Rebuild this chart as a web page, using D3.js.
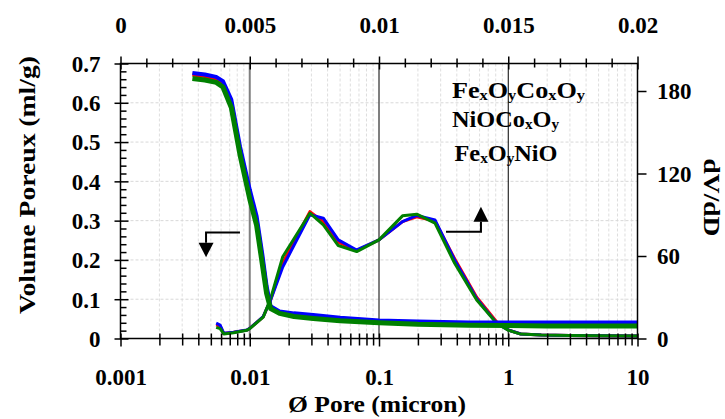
<!DOCTYPE html>
<html><head><meta charset="utf-8">
<script src="https://cdn.jsdelivr.net/npm/d3@7/dist/d3.min.js"></script>
<style>
body{margin:0;background:#fff}
text{font-family:"Liberation Serif","Times New Roman",serif;font-weight:bold;fill:#000}
</style>
</head><body>
<svg id="c" width="725" height="419"></svg>
<script>
// ---------- data ----------
const volX     = [0.0036,0.0045,0.0055,0.0062,0.0072,0.0084,0.0100,0.0113,0.0125,0.0135,0.0145,0.0170,0.0220,0.0310,0.050,0.100,0.200,0.500,1.0,2.0,5.0,10.0];
const volRed   = [0.672,0.668,0.661,0.650,0.600,0.480,0.370,0.300,0.205,0.125,0.079,0.067,0.061,0.057,0.050,0.044,0.040,0.038,0.037,0.037,0.037,0.037];
const volBlue  = [0.676,0.672,0.666,0.655,0.608,0.489,0.379,0.311,0.215,0.133,0.082,0.069,0.064,0.060,0.053,0.046,0.043,0.041,0.041,0.041,0.041,0.041];
const volGreen = [0.662,0.658,0.652,0.640,0.588,0.468,0.355,0.288,0.190,0.115,0.076,0.064,0.056,0.051,0.045,0.040,0.036,0.034,0.033,0.032,0.032,0.032];

const dvX     = [0.0055,0.0059,0.0063,0.0075,0.0095,0.0100,0.0127,0.0145,0.0180,0.0292,0.0371,0.0484,0.0672,0.100,0.152,0.196,0.271,0.385,0.570,0.815,1.00,1.25,1.80,3.0,5.0,10.0];
const dvRed   = [10.0,9.0,3.6,4.5,6.1,7.3,15.7,28,55,92.3,85,70,64,71.7,85,88.5,85.5,58,30,12,6.2,3.3,2.5,2.2,2.0,1.8];
const dvBlue  = [11.1,9.8,3.8,4.6,6.2,7.4,15.9,28,52,90,87.5,71.7,64.4,71.7,85,89.5,86.3,57,29,11,6.2,3.3,2.5,2.2,2.0,1.8];
const dvGreen = [8.1,7.2,3.3,4.2,6.0,7.2,15.5,29,59.5,91.1,82.6,67.6,63.2,71.7,89.2,90.4,83.9,54.7,28,11,6.0,3.2,2.5,2.2,2.0,1.8];

const leftTicks   = [0,0.1,0.2,0.3,0.4,0.5,0.6,0.7];
const rightTicks  = [0,60,120,180];
const bottomTicks = [0.001,0.01,0.1,1,10];
const topTicks    = [0,0.005,0.01,0.015,0.02];
const bottomLabels = ["0.001","0.01","0.1","1","10"];
const topLabels    = ["0","0.005","0.01","0.015","0.02"];
const leftLabels   = ["0","0.1","0.2","0.3","0.4","0.5","0.6","0.7"];
const rightLabels  = ["0","60","120","180"];

const legendRows = [
  [["Fe",0],["x",1],["O",0],["y",1],["Co",0],["x",1],["O",0],["y",1]],
  [["NiOCo",0],["x",1],["O",0],["y",1]],
  [["Fe",0],["x",1],["O",0],["y",1],["NiO",0]]
];
const seriesColors = ["#ff0000","#0000ff","#008000"];

// ---------- scales ----------
const L=120.5, R=637.5, T=63.5, B=338.5;
const x = d3.scaleLog().domain([0.001,10]).range([L,R]);
const xTop = d3.scaleLinear().domain([0,0.02]).range([L,R]);
const yL = d3.scaleLinear().domain([0,0.7]).range([B,T]);
const yR = d3.scaleLinear().domain([0,200]).range([B,T]);

const svg = d3.select("#c");

// ---------- gridlines ----------
const minorLog = [];
[0.001,0.01,0.1,1].forEach(d=>{for(let k=2;k<=9;k++) minorLog.push(d*k);});
const grid = svg.append("g");
grid.selectAll("line.vm").data(minorLog).join("line")
  .attr("x1",d=>x(d)).attr("x2",d=>x(d)).attr("y1",T).attr("y2",B)
  .attr("stroke","#dedede").attr("stroke-width",1).attr("stroke-dasharray","3,2");
grid.selectAll("line.h").data(leftTicks.slice(1,-1)).join("line")
  .attr("x1",L).attr("x2",R).attr("y1",d=>yL(d)).attr("y2",d=>yL(d))
  .attr("stroke","#d8d8d8").attr("stroke-width",1).attr("stroke-dasharray","3,2");
grid.selectAll("line.vM").data(bottomTicks.slice(1,-1)).join("line")
  .attr("x1",d=>x(d)).attr("x2",d=>x(d)).attr("y1",T).attr("y2",B)
  .attr("stroke",(d,i)=>i===0?"#808080":"#000").attr("stroke-width",(d,i)=>i===0?2:1);

// ---------- curves ----------
const lineDV = xs => d3.line().x((d,i)=>x(xs[i])).y(d=>yR(d));
const lineV  = xs => d3.line().x((d,i)=>x(xs[i])).y(d=>yL(d));
[dvRed,dvBlue,dvGreen].forEach((s,i)=>{
  svg.append("path").datum(s).attr("d",lineDV(dvX)).attr("fill","none")
    .attr("stroke",seriesColors[i]).attr("stroke-width",3).attr("stroke-linejoin","round");
});
[volRed,volBlue,volGreen].forEach((s,i)=>{
  svg.append("path").datum(s).attr("d",lineV(volX)).attr("fill","none")
    .attr("stroke",seriesColors[i]).attr("stroke-width",i===2?5:4).attr("stroke-linejoin","round");
});

// ---------- axes ----------
function styleAxis(g){ g.attr("font-family",null).attr("font-size",null); g.select(".domain").remove(); g.selectAll(".tick line").attr("stroke","#000").attr("stroke-width",1.5); }

// bottom
const gb = svg.append("g").attr("transform",`translate(0,${B})`)
  .call(d3.axisBottom(x).tickValues(bottomTicks).tickFormat((d,i)=>bottomLabels[i]));
styleAxis(gb);
gb.selectAll(".tick line").attr("y1",-5).attr("y2",8);
gb.selectAll(".tick text").attr("y",46.5).attr("dy",0).style("font-size","23px");
svg.append("g").attr("transform",`translate(0,${B})`)
  .call(d3.axisBottom(x).tickValues(minorLog).tickFormat(""))
  .call(g=>{styleAxis(g); g.selectAll(".tick line").attr("y1",-5).attr("y2",7);});

// top
const gt = svg.append("g").attr("transform",`translate(0,${T})`)
  .call(d3.axisTop(xTop).tickValues(topTicks).tickFormat((d,i)=>topLabels[i]));
styleAxis(gt);
gt.selectAll(".tick line").attr("y1",-7).attr("y2",6);
gt.selectAll(".tick text").attr("y",-30.5).attr("dy",0).style("font-size","23px");
const topMinor = d3.range(1,20).map(k=>k*0.001).filter(d=>Math.abs(d/0.005-Math.round(d/0.005))>1e-6);
svg.append("g").attr("transform",`translate(0,${T})`)
  .call(d3.axisTop(xTop).tickValues(topMinor).tickFormat(""))
  .call(g=>{styleAxis(g); g.selectAll(".tick line").attr("y1",-5).attr("y2",4);});

// left
const gl = svg.append("g").attr("transform",`translate(${L},0)`)
  .call(d3.axisLeft(yL).tickValues(leftTicks).tickFormat((d,i)=>leftLabels[i]));
styleAxis(gl);
gl.selectAll(".tick line").attr("x1",-6).attr("x2",8);
gl.selectAll(".tick text").attr("x",-20).attr("dy","0.34em").style("font-size","23px");
const leftMinor = d3.range(1,35).map(k=>k*0.02).filter(d=>Math.abs(d*10-Math.round(d*10))>1e-6);
svg.append("g").attr("transform",`translate(${L},0)`)
  .call(d3.axisLeft(yL).tickValues(leftMinor).tickFormat(""))
  .call(g=>{styleAxis(g); g.selectAll(".tick line").attr("x1",0).attr("x2",6);});

// right
const gr = svg.append("g").attr("transform",`translate(${R},0)`)
  .call(d3.axisRight(yR).tickValues(rightTicks).tickFormat((d,i)=>rightLabels[i]));
styleAxis(gr);
gr.selectAll(".tick line").attr("x1",0).attr("x2",9);
gr.selectAll(".tick text").attr("x",19.5).attr("dy","0.34em").style("font-size","23px");

// frame
svg.append("rect").attr("x",L).attr("y",T).attr("width",R-L).attr("height",B-T)
  .attr("fill","none").attr("stroke","#000").attr("stroke-width",1.5);

// ---------- titles ----------
svg.append("text").attr("transform","translate(35,185) rotate(-90)").attr("text-anchor","middle")
  .style("font-size","24px").attr("textLength",258).attr("lengthAdjust","spacingAndGlyphs")
  .text("Volume Poreux (ml/g)");
svg.append("text").attr("transform","translate(704,197.5) rotate(90)").attr("text-anchor","middle")
  .style("font-size","23px").attr("textLength",78).attr("lengthAdjust","spacingAndGlyphs")
  .text("dV/dD");
svg.append("text").attr("x",377).attr("y",412).attr("text-anchor","middle")
  .style("font-size","24px").attr("textLength",178).attr("lengthAdjust","spacingAndGlyphs")
  .text("Ø Pore (micron)");

// ---------- legend ----------
const legPos = [[452,98.3,133],[452,127.3,107],[454.5,160.7,103]];
legendRows.forEach((row,i)=>{
  const t = svg.append("text").attr("x",legPos[i][0]).attr("y",legPos[i][1])
    .style("font-size","24px").attr("textLength",legPos[i][2]).attr("lengthAdjust","spacingAndGlyphs");
  let prevSub=false;
  row.forEach(([s,sub])=>{
    const ts=t.append("tspan").text(s);
    if(sub){ ts.style("font-size","15px").attr("dy",prevSub?0:2); }
    else { ts.attr("dy",prevSub?-2:0); }
    prevSub=!!sub;
  });
});

// ---------- arrows (annotation, placed in data units) ----------
const arrows = [
  {hx1:0.0084, hx0:0.00459, y:0.270, yb:0.244, yt:0.207, sc:yL},
  {hx1:0.33,   hx0:0.615,   y:77.7,  yb:85,    yt:95.9,  sc:yR}
];
arrows.forEach(a=>{
  const cx=x(a.hx0);
  svg.append("path").attr("fill","none").attr("stroke","#000").attr("stroke-width",2)
    .attr("d",`M${x(a.hx1)},${a.sc(a.y)}H${cx}V${a.sc(a.yb)}`);
  svg.append("path").attr("fill","#000")
    .attr("d",`M${cx-7.5},${a.sc(a.yb)}L${cx+7.5},${a.sc(a.yb)}L${cx},${a.sc(a.yt)}Z`);
});
</script>
</body></html>
